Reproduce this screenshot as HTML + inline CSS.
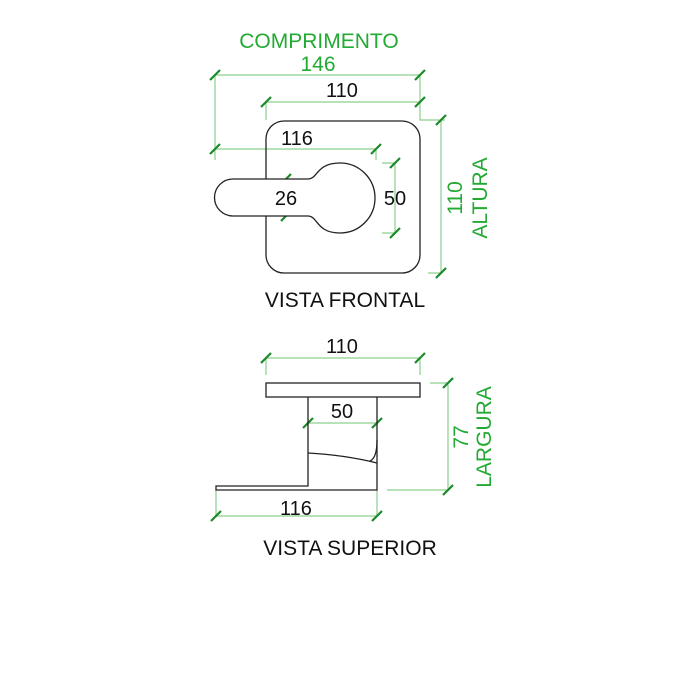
<!DOCTYPE html>
<html><head><meta charset="utf-8"><style>
html,body{margin:0;padding:0;background:#fff;}
svg{display:block;}
text{font-family:"Liberation Sans",sans-serif;}
</style></head><body>
<svg width="700" height="700" viewBox="0 0 700 700" xmlns="http://www.w3.org/2000/svg">
<g stroke="#8ccf8c" stroke-width="1.2" fill="none">
<path d="M215 75H420M215 75V160M420 75V120H445"/>
<path d="M266 102H420M266 102V120"/>
<path d="M215 149H376M376 149V160"/>
<path d="M395 163V233M382 163H395M382 233H395"/>
<path d="M286 179V216"/>
<path d="M441 120V273M428 273H441"/>
<path d="M266 358H420M266 358V375M420 358V375"/>
<path d="M308 423H377"/>
<path d="M216 516H377M216 490V516M377 490V516"/>
<path d="M448 383V490M430 383H448M387 490H448"/>
</g>
<g stroke="#1a8a2a" stroke-width="2.2" fill="none">
<path d="M210 80l10-10M415 80l10-10M261 107l10-10M415 107l10-10M210 154l10-10M371 154l10-10"/>
<path d="M390 168l10-10M390 238l10-10M281 184l10-10M281 221l10-10M436 125l10-10M436 278l10-10"/>
<path d="M261 363l10-10M415 363l10-10M303 428l10-10M372 428l10-10M211 521l10-10M372 521l10-10M443 388l10-10M443 495l10-10"/>
</g>
<g stroke="#222" stroke-width="1.3" fill="none">
<rect x="266" y="121" width="154" height="152" rx="18"/>
<path d="M308 179H233A18.5 18.5 0 0 0 233 216H308C318 216 316 233 340 233A35 35 0 0 0 340 163C316 163 318 179 308 179Z" fill="#fff"/>
<rect x="266" y="383" width="154" height="14"/>
<path d="M308 397V486H216V490H377V397"/>
<path d="M308 453Q345 455 377 463"/>
<path d="M377 440Q377 458 370 461"/>
</g>
<g fill="#111" font-size="20" text-anchor="middle">
<text x="342" y="97">110</text>
<text x="297" y="145">116</text>
<text x="286" y="205">26</text>
<text x="395" y="205">50</text>
<text x="342" y="353">110</text>
<text x="342" y="418">50</text>
<text x="296" y="515">116</text>
</g>
<g fill="#111" font-size="21" text-anchor="middle">
<text x="345" y="307">VISTA FRONTAL</text>
<text x="350" y="555">VISTA SUPERIOR</text>
</g>
<g fill="#22aa33" font-size="21" text-anchor="middle">
<text x="319" y="48">COMPRIMENTO</text>
<text x="318" y="71">146</text>
<text transform="translate(462,198) rotate(-90)">110</text>
<text transform="translate(487,198) rotate(-90)">ALTURA</text>
<text transform="translate(468,437) rotate(-90)">77</text>
<text transform="translate(491,437) rotate(-90)">LARGURA</text>
</g>
</svg>
</body></html>
